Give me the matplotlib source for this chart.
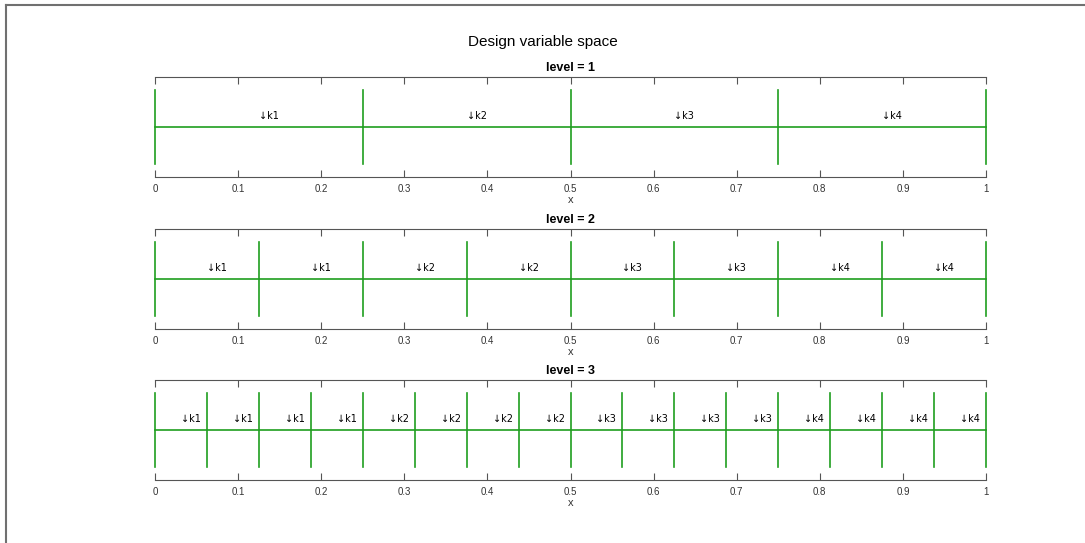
import matplotlib
matplotlib.use("Agg")
import matplotlib.pyplot as plt
from matplotlib.lines import Line2D

plt.rcParams['font.family'] = ['Liberation Sans', 'DejaVu Sans']

# data
levels = [1, 2, 3]
n_segments = [4, 8, 16]
knot_labels = ['k1', 'k2', 'k3', 'k4']
xticks = [0, 0.1, 0.2, 0.3, 0.4, 0.5, 0.6, 0.7, 0.8, 0.9, 1]
xticklabels = ['0', '0.1', '0.2', '0.3', '0.4', '0.5', '0.6', '0.7', '0.8', '0.9', '1']

green = '#1f9e1f'
axcol = '#555555'

fig = plt.figure(figsize=(10.85, 5.43), dpi=100)
fig.patch.set_facecolor('white')

# window frame on top / left
fig.add_artist(Line2D([6 / 1085, 1], [1 - 5 / 543, 1 - 5 / 543], color='#707070', lw=1.5))
fig.add_artist(Line2D([6 / 1085, 6 / 1085], [0, 1 - 5 / 543], color='#707070', lw=1.5))

fig.text(0.5, 1 - 42 / 543, 'Design variable space', ha='center', va='center', fontsize=11)

bottoms = [1 - 177 / 543, 1 - 329 / 543, 1 - 480 / 543]
left = 155 / 1085
width = (986 - 155) / 1085
height = 100 / 543

for lev, n, b in zip(levels, n_segments, bottoms):
    ax = fig.add_axes([left, b, width, height])
    edges = [i / n for i in range(n + 1)]
    ax.plot([0, 1], [0, 0], color=green, lw=1.2, clip_on=False)
    for e in edges:
        ax.plot([e, e], [-1, 1], color=green, lw=1.2, clip_on=False)
    per = n // len(knot_labels)
    for i in range(n):
        mid = (edges[i] + edges[i + 1]) / 2
        ax.text(mid, 0.3, '\u2193' + knot_labels[i // per], ha='left', va='center',
                fontsize=7, family=['DejaVu Sans'])
    ax.set_xlim(0, 1)
    ax.set_ylim(-1.35, 1.35)
    ax.set_yticks([])
    ax.set_xticks(xticks)
    ax.set_xticklabels(xticklabels)
    ax.tick_params(axis='x', direction='in', top=True, length=5, color=axcol, labelcolor='#333333',
                   labelsize=7, pad=5)
    for s in ['left', 'right']:
        ax.spines[s].set_visible(False)
    for s in ['top', 'bottom']:
        ax.spines[s].set_color(axcol)
        ax.spines[s].set_linewidth(0.8)
    ax.set_xlabel('x', fontsize=8, color='#333333', labelpad=1)
    ax.set_title('level = %d' % lev, fontsize=9, fontweight='bold', pad=4)

fig.savefig('out.png', dpi=100, facecolor='white')
